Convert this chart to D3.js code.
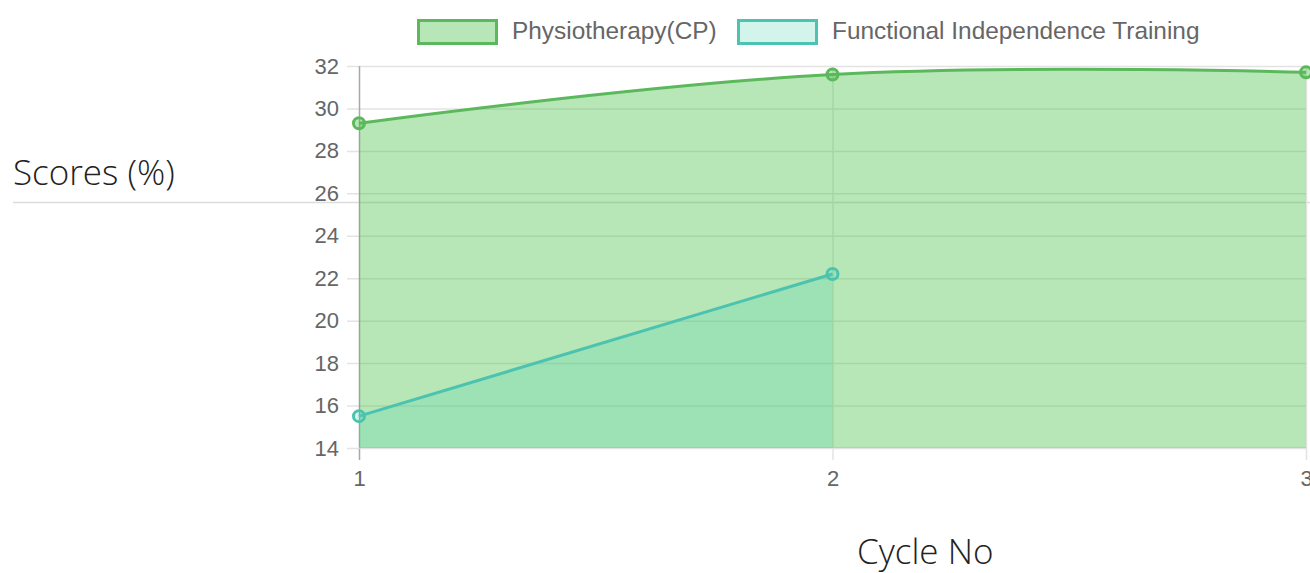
<!DOCTYPE html>
<html>
<head>
<meta charset="utf-8">
<script src="https://cdn.jsdelivr.net/npm/d3@7"></script>
<style>
  html, body { margin: 0; padding: 0; background: #fff; }
  svg { display: block; }
</style>
</head>
<body>
<svg id="chart" width="1310" height="573"></svg>
<script>
const cycles = [1, 2, 3];
const physioValues = [29.3, 31.6, 31.7];
const fitValues = [15.5, 22.2];
const seriesNames = ["Physiotherapy(CP)", "Functional Independence Training"];
const yTicks = [14, 16, 18, 20, 22, 24, 26, 28, 30, 32];
const yTitle = "Scores (%)";
const xTitle = "Cycle No";

const svg = d3.select("#chart");
const x = d3.scaleLinear().domain([1, 3]).range([359, 1306]);
const y = d3.scaleLinear().domain([14, 32]).range([448, 66]);

const physioStroke = "#5cb85c";
const physioFill = "rgba(76,195,76,0.4)";
const fitStroke = "#4cc3b0";
const fitFill = "rgba(75,210,170,0.25)";
const tickFont = "Liberation Sans, Arial, sans-serif";
const titleFont = "'Open Sans', 'Noto Sans', sans-serif";

// page horizontal rule (behind the chart)
svg.append("line").attr("x1", 13).attr("x2", 1310).attr("y1", 202.5).attr("y2", 202.5)
  .attr("stroke", "#dcdcdc").attr("stroke-width", 1.5);

// y axis grid
const yAxis = d3.axisLeft(y).tickValues(yTicks).tickSize(-(x.range()[1] - x.range()[0]) - 12).tickPadding(8).tickFormat(d3.format("d"));
const gy = svg.append("g").attr("transform", `translate(${x.range()[0] - 12},0)`).call(yAxis);
gy.select(".domain").remove();
gy.selectAll(".tick line").attr("stroke", "#e3e3e3").attr("stroke-width", 1.5);
gy.selectAll(".tick text").attr("fill", "#666").style("font-family", tickFont).style("font-size", "22px");

// x axis grid
const xAxis = d3.axisBottom(x).tickValues(cycles).tickSize(-(y.range()[0] - y.range()[1]) - 12).tickPadding(10).tickFormat(d3.format("d"));
const gx = svg.append("g").attr("transform", `translate(0,${y.range()[0] + 12})`).call(xAxis);
gx.select(".domain").remove();
gx.selectAll(".tick line").attr("stroke", (d) => d === 1 ? "#a8a8a8" : "#e3e3e3").attr("stroke-width", 1.5);
gx.selectAll(".tick text").attr("fill", "#666").style("font-family", tickFont).style("font-size", "22px");

// bottom axis line
svg.append("line").attr("x1", x.range()[0]).attr("x2", x.range()[1]).attr("y1", y(14)).attr("y2", y(14))
  .attr("stroke", "#e3e3e3").attr("stroke-width", 1.5);

const curve = d3.curveCardinal.tension(-0.2);
const physioData = physioValues.map((v, i) => ({ x: cycles[i], y: v }));
const fitData = fitValues.map((v, i) => ({ x: cycles[i], y: v }));

function drawSeries(data, stroke, fill) {
  const area = d3.area().curve(curve).x(d => x(d.x)).y0(y(14)).y1(d => y(d.y));
  const line = d3.line().curve(curve).x(d => x(d.x)).y(d => y(d.y));
  svg.append("path").datum(data).attr("d", area).attr("fill", fill);
  svg.append("path").datum(data).attr("d", line).attr("fill", "none").attr("stroke", stroke).attr("stroke-width", 3);
}
drawSeries(physioData, physioStroke, physioFill);
drawSeries(fitData, fitStroke, fitFill);

function drawPoints(data, stroke, fill) {
  svg.append("g").selectAll("circle").data(data).join("circle")
    .attr("cx", d => x(d.x)).attr("cy", d => y(d.y)).attr("r", 5.5)
    .attr("fill", fill).attr("stroke", stroke).attr("stroke-width", 3);
}
drawPoints(physioData, physioStroke, physioFill);
drawPoints(fitData, fitStroke, fitFill);

// legend
const legend = [
  { name: seriesNames[0], stroke: physioStroke, fill: physioFill, bx: 417 },
  { name: seriesNames[1], stroke: fitStroke, fill: fitFill, bx: 737 }
];
legend.forEach(l => {
  svg.append("rect").attr("x", l.bx + 1.5).attr("y", 20.5).attr("width", 78).attr("height", 23)
    .attr("fill", l.fill).attr("stroke", l.stroke).attr("stroke-width", 3);
  svg.append("text").attr("x", l.bx + 95).attr("y", 39).text(l.name)
    .attr("fill", "#666").style("font-family", tickFont).style("font-size", "24.4px");
});

// titles
svg.append("text").attr("x", 13).attr("y", 185).text(yTitle)
  .attr("fill", "#222").style("font-family", titleFont).style("font-weight", 300).style("font-size", "35px");
svg.append("text").attr("x", 857).attr("y", 564).text(xTitle)
  .attr("fill", "#222").style("font-family", titleFont).style("font-weight", 300).style("font-size", "35px");
</script>
</body>
</html>
